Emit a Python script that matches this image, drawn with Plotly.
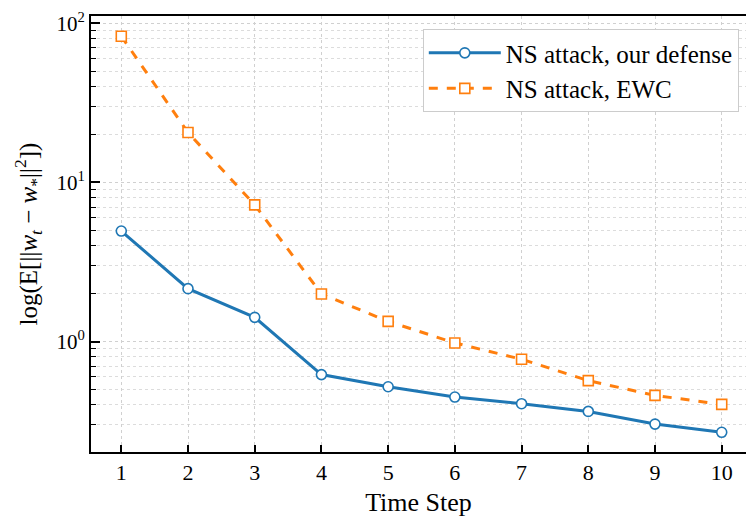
import plotly.graph_objects as go

steps = [1, 2, 3, 4, 5, 6, 7, 8, 9, 10]
ours = [4.95, 2.15, 1.42, 0.62, 0.52, 0.448, 0.407, 0.364, 0.303, 0.269]
ewc = [83.0, 20.6, 7.23, 1.99, 1.34, 0.98, 0.774, 0.568, 0.459, 0.403]
series_names = ["NS attack, our defense", "NS attack, EWC"]
ytick_vals = [1, 10, 100]
ytick_text = ["10<sup>0</sup>", "10<sup>1</sup>", "10<sup>2</sup>"]

BLUE = "#1f77b4"
ORANGE = "#ff7f0e"
FONT = "Liberation Serif"

fig = go.Figure()
fig.add_trace(go.Scatter(
    x=steps, y=ours, name=series_names[0], mode="lines+markers",
    line=dict(color=BLUE, width=3),
    marker=dict(symbol="circle", size=10, color="white", line=dict(color=BLUE, width=1.6)),
))
fig.add_trace(go.Scatter(
    x=steps, y=ewc, name=series_names[1], mode="lines+markers",
    line=dict(color=ORANGE, width=3, dash="dash"),
    marker=dict(symbol="square", size=10, color="white", line=dict(color=ORANGE, width=1.6)),
))

fig.update_layout(
    width=746, height=517,
    margin=dict(l=91, r=0, t=16, b=65),
    paper_bgcolor="white", plot_bgcolor="white",
    font=dict(family=FONT, size=22, color="black"),
    showlegend=True,
    legend=dict(
        x=0.989, y=0.97, xanchor="right", yanchor="top",
        bgcolor="white", bordercolor="#cccccc", borderwidth=1,
        font=dict(family=FONT, size=25),
        itemwidth=72, tracegroupgap=0,
    ),
)

fig.update_xaxes(
    range=[0.546, 10.364], automargin=False,
    tickvals=steps, ticks="inside", ticklen=7, tickwidth=1.5, tickcolor="black",
    showline=True, linecolor="black", linewidth=2, mirror=True,
    showgrid=True, gridcolor="#d0d0d0", griddash="dot", gridwidth=1,
    zeroline=False,
    title=dict(text="Time Step", font=dict(family=FONT, size=26), standoff=10),
    tickfont=dict(family=FONT, size=22),
)

fig.update_yaxes(
    type="log", range=[-0.694, 2.046], automargin=False,
    tickvals=ytick_vals, ticktext=ytick_text,
    ticks="inside", ticklen=9, tickwidth=1.5, tickcolor="black",
    showline=True, linecolor="black", linewidth=2,
    showgrid=True, gridcolor="#d0d0d0", griddash="dot", gridwidth=1,
    minor=dict(dtick="D1", ticks="inside", ticklen=5, tickwidth=1.2, tickcolor="black",
               showgrid=True, gridcolor="#dcdcdc", griddash="dot", gridwidth=1),
    zeroline=False,
    title=dict(text="log(E[||<i>w</i><sub><i>t</i></sub> \u2212 <i>w</i><sub>*</sub>||<sup>2</sup>])",
               font=dict(family=FONT, size=25), standoff=12),
    tickfont=dict(family=FONT, size=21),
)

fig.write_html("out.html", config={"displayModeBar": False},
               post_script="document.body.style.margin='0px';")
